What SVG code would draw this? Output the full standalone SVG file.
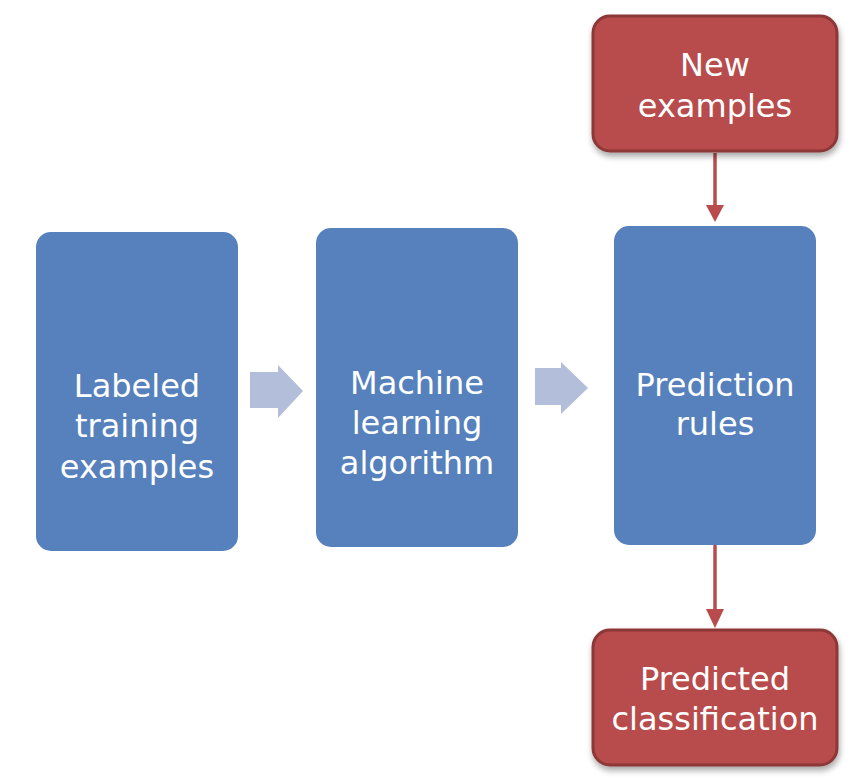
<svg xmlns="http://www.w3.org/2000/svg" width="864" height="780" viewBox="0 0 864 780">
<defs>
<style>
.blue{fill:#5681BD;}
.red{fill:#B84C4C;stroke:#8C3737;stroke-width:3;}
.lbl{font-family:"DejaVu Sans",sans-serif;font-size:32px;fill:#FFFFFF;text-anchor:middle;}
.block{fill:#B3BEDB;}
.rline{stroke:#B84C4C;stroke-width:3.5;fill:none;}
.rhead{fill:#B84C4C;}
</style>
<filter id="sh" x="-10%" y="-10%" width="125%" height="130%">
<feGaussianBlur in="SourceAlpha" stdDeviation="3"/>
<feOffset dx="1" dy="4" result="b"/>
<feComponentTransfer><feFuncA type="linear" slope="0.35"/></feComponentTransfer>
<feMerge><feMergeNode/><feMergeNode in="SourceGraphic"/></feMerge>
</filter>
</defs>
<rect width="864" height="780" fill="#FFFFFF"/>
<g id="connectors">
<polygon class="block" points="250,372 278,372 278,365 303,391 278,418 278,408 250,408"/>
<polygon class="block" points="535,368 561,368 561,362 588,388 561,414 561,405 535,405"/>
<line class="rline" x1="715" y1="153" x2="715" y2="206"/>
<polygon class="rhead" points="706,205 724,205 715,222"/>
<line class="rline" x1="715" y1="545" x2="715" y2="610"/>
<polygon class="rhead" points="706,609 724,609 715,628"/>
</g>
<g id="labeled-training">
<rect class="blue" x="36" y="232" width="202" height="319" rx="15"/>
<text class="lbl" x="137" y="397">Labeled</text>
<text class="lbl" x="137" y="437">training</text>
<text class="lbl" x="137" y="478">examples</text>
</g>
<g id="ml-algorithm">
<rect class="blue" x="316" y="228" width="202" height="319" rx="15"/>
<text class="lbl" x="417" y="394">Machine</text>
<text class="lbl" x="417" y="434">learning</text>
<text class="lbl" x="417" y="474">algorithm</text>
</g>
<g id="prediction-rules">
<rect class="blue" x="614" y="226" width="202" height="319" rx="15"/>
<text class="lbl" x="715" y="396">Prediction</text>
<text class="lbl" x="715" y="435">rules</text>
</g>
<g id="new-examples">
<rect class="red" x="593" y="16" width="244" height="135" rx="17" filter="url(#sh)"/>
<text class="lbl" x="715" y="76">New</text>
<text class="lbl" x="715" y="117">examples</text>
</g>
<g id="predicted-classification">
<rect class="red" x="593" y="630" width="244" height="135" rx="17" filter="url(#sh)"/>
<text class="lbl" x="715" y="690">Predicted</text>
<text class="lbl" x="715" y="730">classification</text>
</g>
</svg>
